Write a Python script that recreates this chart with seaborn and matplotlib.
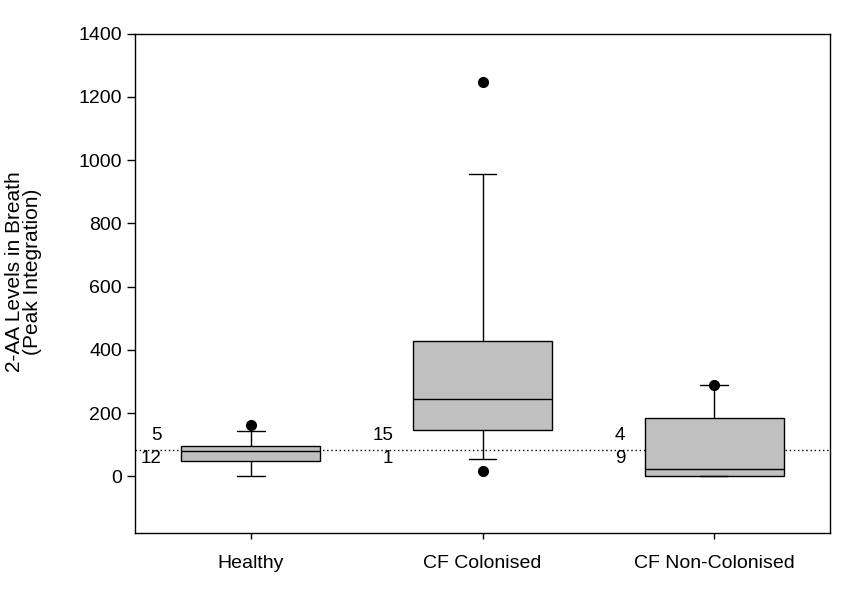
import matplotlib
matplotlib.use("Agg")
import matplotlib.pyplot as plt
import seaborn as sns
import pandas as pd

# ---- data (estimated individual observations, read from box/whisker summary) ----
groups = ["Healthy", "CF Colonised", "CF Non-Colonised"]
healthy = [0, 0, 0, 20, 47, 55, 65, 72, 79, 80, 81, 81, 96, 120, 144, 144, 162]
cf_colonised = [18, 53, 53, 146, 146, 180, 210, 233, 253, 300, 380, 427, 427, 956, 956, 1247]
cf_non_colonised = [0, 0, 0, 0, 5, 12, 22, 35, 60, 183, 288, 288, 290]
threshold = 84
counts_above = [5, 15, 4]
counts_below = [12, 1, 9]
yticks = [0, 200, 400, 600, 800, 1000, 1200, 1400]

df = pd.DataFrame({
    "group": ["Healthy"] * len(healthy) + ["CF Colonised"] * len(cf_colonised)
             + ["CF Non-Colonised"] * len(cf_non_colonised),
    "value": healthy + cf_colonised + cf_non_colonised,
})

sns.set_style("ticks")
plt.rcParams["font.family"] = ["Liberation Sans", "DejaVu Sans"]
plt.rcParams["text.color"] = "black"
plt.rcParams["axes.labelcolor"] = "black"
plt.rcParams["xtick.color"] = "black"
plt.rcParams["ytick.color"] = "black"

fig = plt.figure(figsize=(8.62, 5.99), dpi=100)
ax = fig.add_axes([0.1566, 0.110, 0.8064, 0.8336])

sns.boxplot(data=df, x="group", y="value", order=groups, ax=ax,
            color="#C0C0C0", linecolor="black", linewidth=1.0, width=0.6,
            whis=(10, 90), saturation=1, fliersize=7,
            flierprops=dict(marker="o", markerfacecolor="black",
                            markeredgecolor="black"),
            capwidths=0.12)

ax.axhline(threshold, color="black", linestyle=(0, (1, 2)), linewidth=1.0, zorder=0.5)

for i, (a, b) in enumerate(zip(counts_above, counts_below)):
    ax.text(i - 0.385, threshold + 45, str(a), ha="right", va="center",
            fontsize=13.5, color="black")
    ax.text(i - 0.385, threshold - 27, str(b), ha="right", va="center",
            fontsize=13.5, color="black")

ax.set_xlim(-0.5, 2.5)
ax.set_ylim(-180, 1400)
ax.set_yticks(yticks)
ax.set_xlabel("")
ax.set_ylabel("2-AA Levels in Breath\n(Peak Integration)", fontsize=15,
              color="black", linespacing=0.95)
ax.yaxis.set_label_coords(-0.134, 0.523)
ax.tick_params(axis="y", labelsize=14, length=6, width=1, colors="black")
ax.tick_params(axis="x", labelsize=14, length=4, width=1, colors="black", pad=12)
for s in ax.spines.values():
    s.set_visible(True)
    s.set_color("black")
    s.set_linewidth(1.0)

fig.savefig("out.png", dpi=100, facecolor="white")
